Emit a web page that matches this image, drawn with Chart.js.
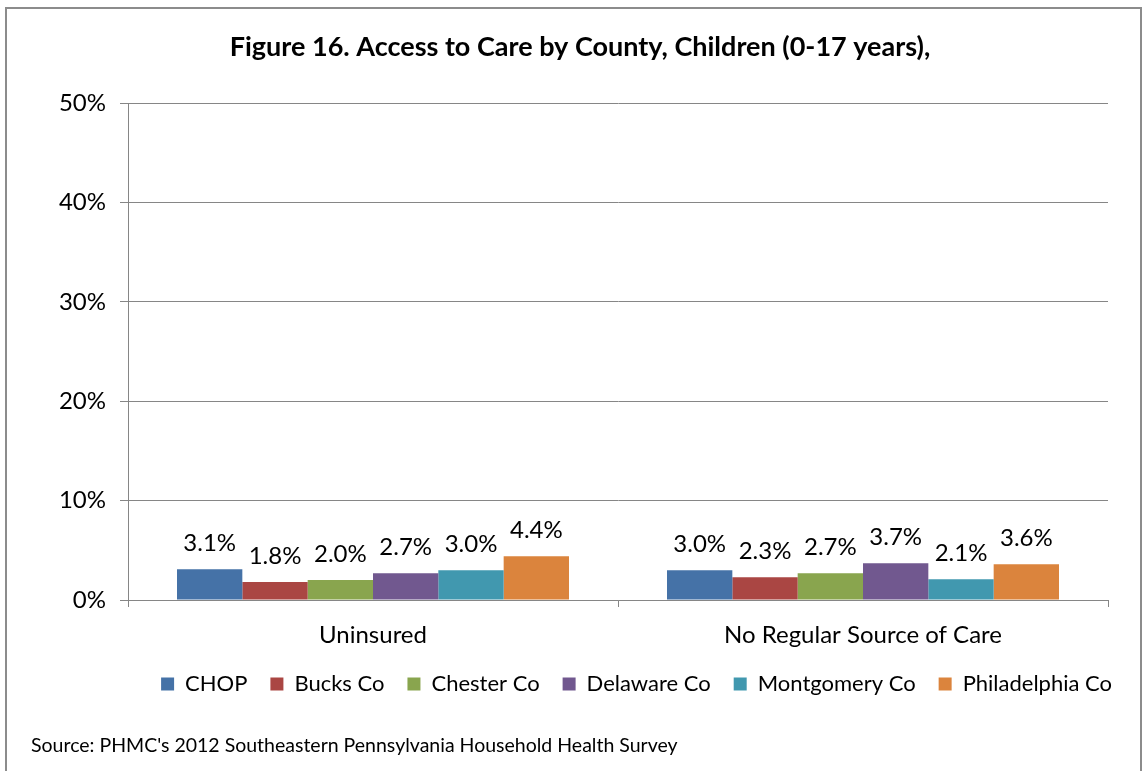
<!DOCTYPE html>
<html>
<head>
<meta charset="utf-8">
<script src="https://cdn.jsdelivr.net/npm/chart.js@4/dist/chart.umd.min.js"></script>
<style>
  body { margin: 0; background: #fff; }
  #wrap { position: relative; width: 1146px; height: 771px; overflow: hidden; }
  #frame { position: absolute; left: 5px; top: 7px; width: 1137px; height: 780px; border: 2px solid #8c8c8c; box-sizing: border-box; pointer-events: none; }
  #source { position: absolute; left: 31px; top: 733px; font: 19.5px Lato, "Open Sans", sans-serif; color: #000; }
</style>
</head>
<body>
<div id="wrap">
  <canvas id="chart" width="1146" height="771"></canvas>
  <div id="frame"></div>
  <div id="source">Source: PHMC's 2012 Southeastern Pennsylvania Household Health Survey</div>
</div>
<script>
const categories = ["Uninsured", "No Regular Source of Care"];
const seriesNames = ["CHOP", "Bucks Co", "Chester Co", "Delaware Co", "Montgomery Co", "Philadelphia Co"];
const chop = [3.1, 3.0];
const bucks = [1.8, 2.3];
const chester = [2.0, 2.7];
const delaware = [2.7, 3.7];
const montgomery = [3.0, 2.1];
const philadelphia = [4.4, 3.6];
const yTicks = [0, 10, 20, 30, 40, 50];

const colors = ["#4572A7", "#AA4643", "#89A54E", "#71588F", "#4198AF", "#DB843D"];
const values = [chop, bucks, chester, delaware, montgomery, philadelphia];
const fontFamily = 'Lato, "Open Sans", sans-serif';

// value labels above each bar
const valueLabels = {
  id: 'valueLabels',
  afterDatasetsDraw(chart) {
    const ctx = chart.ctx;
    ctx.save();
    ctx.font = '24px ' + fontFamily;
    ctx.fillStyle = '#000';
    ctx.textAlign = 'center';
    ctx.textBaseline = 'middle';
    chart.data.datasets.forEach((ds, i) => {
      chart.getDatasetMeta(i).data.forEach((bar, j) => {
        ctx.fillText(ds.data[j].toFixed(1) + '%', bar.x, bar.y - 26);
      });
    });
    ctx.restore();
  }
};

// push the legend a bit further right
const legendShift = {
  id: 'legendShift',
  afterLayout(chart) {
    if (chart.legend) chart.legend.right += 27;
  }
};

new Chart(document.getElementById('chart').getContext('2d'), {
  type: 'bar',
  data: {
    labels: categories,
    datasets: seriesNames.map((name, i) => ({
      label: name,
      data: values[i],
      backgroundColor: colors[i],
      categoryPercentage: 0.8,
      barPercentage: 1.0
    }))
  },
  options: {
    responsive: false,
    animation: false,
    layout: { padding: { left: 52, right: 38, top: 0, bottom: 66 } },
    scales: {
      x: {
        grid: { display: true, drawOnChartArea: false, offset: true, color: '#868686', tickLength: 7 },
        border: { color: '#868686' },
        ticks: { color: '#000', font: { family: fontFamily, size: 24 }, padding: 14 },
        afterFit(s) { s.height = 50; }
      },
      y: {
        min: 0,
        max: 50,
        afterBuildTicks(s) { s.ticks = yTicks.map(v => ({ value: v })); },
        grid: { color: '#868686', tickLength: 8 },
        border: { color: '#868686' },
        ticks: { color: '#000', font: { family: fontFamily, size: 24 }, padding: 14, callback: v => v + '%' },
        afterFit(s) { s.width = 76; }
      }
    },
    plugins: {
      title: {
        display: true,
        text: 'Figure 16. Access to Care by County, Children (0-17 years),',
        color: '#000',
        font: { family: fontFamily, size: 27, weight: 'bold' },
        padding: { top: 31, bottom: 39.6 }
      },
      legend: {
        position: 'bottom',
        align: 'end',
        labels: {
          color: '#000',
          font: { family: fontFamily, size: 22 },
          boxWidth: 13,
          boxHeight: 13,
          padding: 23
        }
      },
      tooltip: { enabled: false }
    }
  },
  plugins: [valueLabels, legendShift]
});
</script>
</body>
</html>
